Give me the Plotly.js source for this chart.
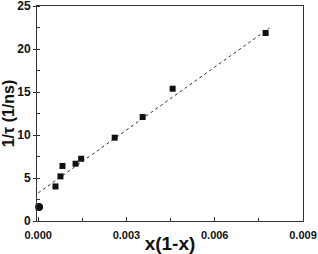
<!DOCTYPE html>
<html><head><meta charset="utf-8">
<script src="https://cdn.plot.ly/plotly-3.0.1.min.js"></script>
<style>html,body{margin:0;padding:0;background:#fff}#c{width:318px;height:254px}</style>
</head><body><div id="c"></div>
<script>
const circleX = [0.00003];
const circleY = [1.63];
const squareX = [0.000588, 0.000758, 0.000826, 0.00127, 0.00146, 0.0026, 0.00355, 0.00457, 0.00773];
const squareY = [4.02, 5.19, 6.4, 6.66, 7.24, 9.69, 12.09, 15.38, 21.86];
const fitX = [0, 0.00786];
const fitY = [3.26, 22.44];
const xTicks = [0, 0.003, 0.006, 0.009];
const xTickText = ['0.000', '0.003', '0.006', '0.009'];
const yTicks = [0, 5, 10, 15, 20, 25];

const font = {family: 'Liberation Sans, Arial, sans-serif', color: '#111'};
const data = [
  {x: fitX, y: fitY, mode: 'lines', line: {color: '#333', width: 1, dash: '3px,3px'}, hoverinfo: 'skip'},
  {x: squareX, y: squareY, mode: 'markers', marker: {symbol: 'square', size: 6, color: '#111'}},
  {x: circleX, y: circleY, mode: 'markers', marker: {symbol: 'circle', size: 8, color: '#111'}, cliponaxis: false}
];
const layout = {
  width: 318, height: 254,
  margin: {l: 37, r: 15, t: 6, b: 33},
  showlegend: false,
  paper_bgcolor: '#fff', plot_bgcolor: '#fff',
  font: font,
  xaxis: {
    range: [-0.00004, 0.009], tickvals: xTicks, ticktext: xTickText,
    ticks: 'inside', ticklen: 4, tickwidth: 1, tickcolor: '#333',
    minor: {dtick: 0.0015, tick0: 0, ticks: 'inside', ticklen: 3, tickcolor: '#333'},
    showline: true, linecolor: '#333', linewidth: 1, mirror: true,
    showgrid: false, zeroline: false, ticklabelstandoff: 4, ticklabeloverflow: 'allow',
    tickfont: {family: font.family, size: 11, color: '#111', weight: 'bold'},
    title: {text: '<b>x(1-x)</b>', font: {family: font.family, size: 19, color: '#111'}, standoff: 0}
  },
  yaxis: {
    range: [0, 25], tickvals: yTicks,
    ticks: 'outside', ticklen: 3, tickwidth: 1, tickcolor: '#333',
    minor: {dtick: 2.5, tick0: 0, ticks: 'inside', ticklen: 3, tickcolor: '#333'},
    showline: true, linecolor: '#333', linewidth: 1, mirror: true,
    showgrid: false, zeroline: false, ticklabeloverflow: 'allow',
    tickfont: {family: font.family, size: 12, color: '#111', weight: 'bold'},
    title: {text: '<b>1/τ (1/ns)</b>', font: {family: font.family, size: 16, color: '#111'}, standoff: 2}
  }
};
Plotly.newPlot('c', data, layout, {displayModeBar: false, staticPlot: true});
</script></body></html>
